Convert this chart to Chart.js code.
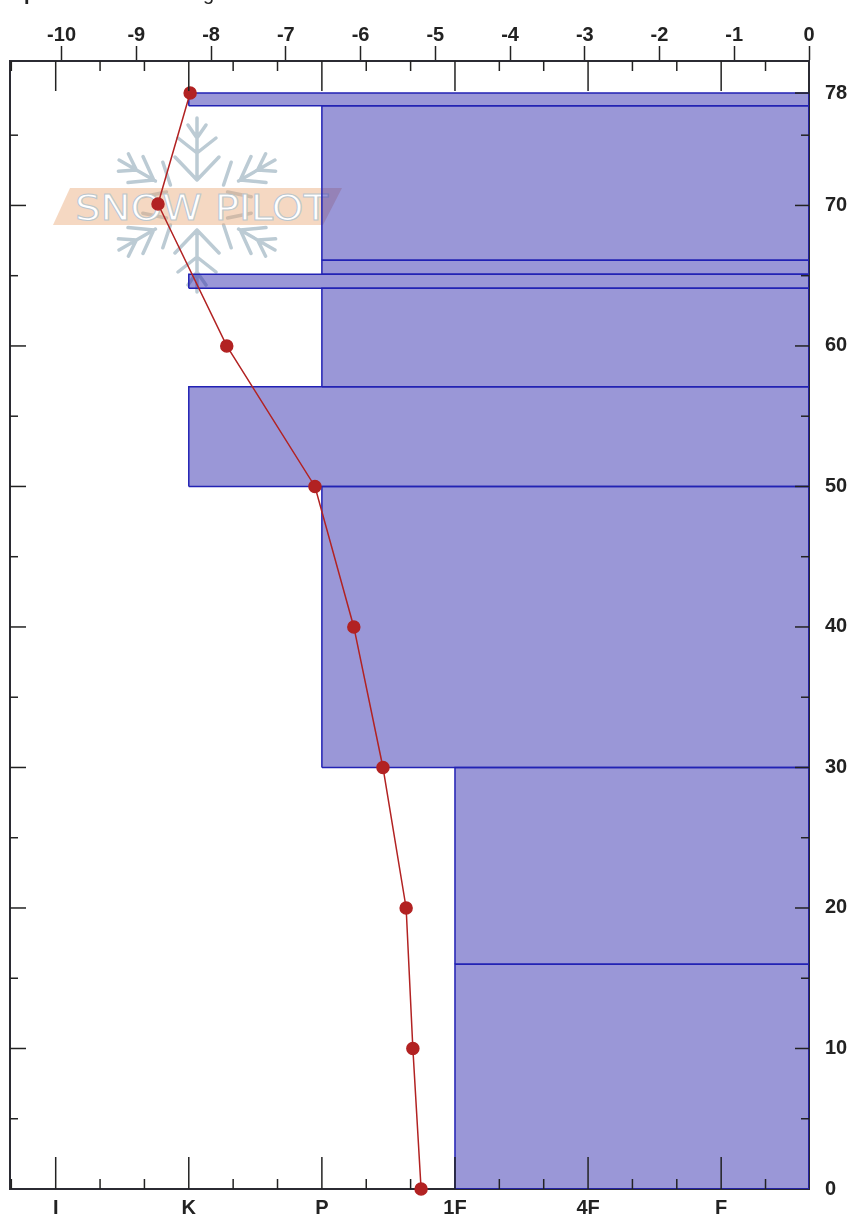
<!DOCTYPE html>
<html>
<head>
<meta charset="utf-8">
<script src="https://cdn.jsdelivr.net/npm/chart.js@4"></script>
<style>
  html, body { margin: 0; padding: 0; background: #fff; overflow: hidden; }
  #wrap { position: relative; width: 848px; height: 1218px; }
  #chart, #logo { position: absolute; left: 0; top: 0; }
  #chart { z-index: 1; }
  #logo { z-index: 0; }
</style>
</head>
<body>
<div id="wrap">
  <svg id="logo" width="848" height="300">
    <defs>
      <g id="arm" fill="none" stroke="#bccbd4" stroke-width="3.5" stroke-linecap="round">
        <path d="M0 -87V-25M0 -25L22 -48M0 -25L-22 -48M0 -52L19 -67M0 -52L-19 -67M0 -67L9 -80M0 -67L-9 -80"/>
      </g>
      <g id="diag" fill="none" stroke="#bccbd4" stroke-width="3.5" stroke-linecap="round">
        <path d="M0 -90V-48M0 -50L15 -71M0 -50L-15 -71M0 -70L10 -85M0 -70L-10 -85M4 -33L20 -51M-4 -33L-20 -51"/>
      </g>
    </defs>
    <g transform="translate(197 205)">
      <use href="#arm"/>
      <use href="#arm" transform="rotate(180)"/>
      <use href="#diag" transform="rotate(60)"/>
      <use href="#diag" transform="rotate(120)"/>
      <use href="#diag" transform="rotate(240)"/>
      <use href="#diag" transform="rotate(300)"/>
    </g>
    <polygon points="53,225 70,188 342,188 323,225" fill="#e8a878" fill-opacity="0.45"/>
    <text x="75" y="220" textLength="253" lengthAdjust="spacingAndGlyphs"
          font-family="DejaVu Sans" font-size="36" fill="#ffffff"
          stroke="#bcc6cc" stroke-width="1">SNOW PILOT</text>
  </svg>
  <canvas id="chart" width="848" height="1218"></canvas>
</div>
<script>
// Hardness profile layers (depth in cm, hardness position on the lower axis)
const layerBottom = [0, 16, 30, 50, 57.1, 64.1, 65.1, 66.1, 77.1];
const layerTop = [16, 30, 50, 57.1, 64.1, 65.1, 66.1, 77.1, 78];
const layerHardness = [10, 10, 7, 4, 7, 4, 7, 7, 4];

// Temperature profile
const tempDepth = [0, 10, 20, 30, 40, 50, 60, 70.1, 78];
const tempValues = [-5.19, -5.30, -5.39, -5.70, -6.09, -6.61, -7.79, -8.71, -8.28];

// Axis ticks
const hardnessTicks = [1, 4, 7, 10, 13, 16];
const hardnessLabels = ['I', 'K', 'P', '1F', '4F', 'F'];
const hardnessMinorTicks = [0, 2, 3, 5, 6, 8, 9, 11, 12, 14, 15, 17];
const tempTicks = [-10, -9, -8, -7, -6, -5, -4, -3, -2, -1, 0];
const depthLabels = [0, 10, 20, 30, 40, 50, 60, 70, 78];
const depthMinorTicks = [5, 15, 25, 35, 45, 55, 65, 75];
const depthMajorTicks = [10, 20, 30, 40, 50, 60, 70];

const HARD_MIN = -0.03;
const HARD_MAX = 17.98;
const axisColor = '#2b2b33';
const tickFont = { family: 'Liberation Sans', size: 20, weight: 'bold' };

// every layer is a closed shape running from its hardness to the right edge
const layerSets = layerBottom.map((bottom, i) => ({
    type: 'line',
    xAxisID: 'x',
    yAxisID: 'y',
    data: [
        { x: layerHardness[i], y: bottom },
        { x: layerHardness[i], y: layerTop[i] },
        { x: HARD_MAX, y: layerTop[i] },
        { x: HARD_MAX, y: bottom },
        { x: layerHardness[i], y: bottom }
    ],
    borderColor: '#2222b4',
    borderWidth: 1.5,
    backgroundColor: 'rgba(40,35,170,0.47)',
    fill: 'shape',
    pointRadius: 0,
    tension: 0
}));

// ticks that point into the plot, the axes only draw them outwards
const insideTicks = {
    id: 'insideTicks',
    afterDatasetsDraw(chart) {
        const { ctx, chartArea: a, scales } = chart;
        const line = (x1, y1, x2, y2, w) => {
            ctx.lineWidth = w;
            ctx.beginPath();
            ctx.moveTo(x1, y1);
            ctx.lineTo(x2, y2);
            ctx.stroke();
        };
        ctx.save();
        ctx.strokeStyle = '#222';
        hardnessTicks.forEach(v => {
            const x = scales.x.getPixelForValue(v);
            line(x, a.top, x, a.top + 30, 1.5);
            line(x, a.bottom, x, a.bottom - 32, 1.5);
        });
        hardnessMinorTicks.forEach(v => {
            const x = scales.x.getPixelForValue(v);
            line(x, a.top, x, a.top + 10, 1.5);
            line(x, a.bottom, x, a.bottom - 10, 1.5);
        });
        depthMajorTicks.forEach(v => {
            const y = scales.y.getPixelForValue(v);
            line(a.left, y, a.left + 16, y, 1.5);
            line(a.right, y, a.right - 14, y, 1.5);
        });
        depthMinorTicks.forEach(v => {
            const y = scales.y.getPixelForValue(v);
            line(a.left, y, a.left + 8, y, 1.5);
            line(a.right, y, a.right - 8, y, 1.5);
        });
        const topY = scales.y.getPixelForValue(78);
        line(a.right, topY, a.right - 14, topY, 1.5);
        // the title is cut off by the page edge, only its descenders show
        ctx.fillStyle = '#222';
        ctx.font = 'bold 20px "Liberation Sans"';
        ctx.textBaseline = 'alphabetic';
        ctx.fillText('p', 24, 0);
        ctx.font = '20px "Liberation Sans"';
        ctx.fillText('g', 203, 0);
        ctx.restore();
    }
};

new Chart(document.getElementById('chart').getContext('2d'), {
    data: {
        datasets: [
            {
                type: 'line',
                label: 'Temperature',
                xAxisID: 'xTemp',
                yAxisID: 'y',
                data: tempDepth.map((d, i) => ({ x: tempValues[i], y: d })),
                borderColor: '#b22222',
                borderWidth: 1.5,
                backgroundColor: '#b22222',
                pointBackgroundColor: '#b22222',
                pointBorderColor: '#b22222',
                pointRadius: 6,
                fill: false,
                tension: 0,
                clip: false
            },
            ...layerSets
        ]
    },
    options: {
        responsive: false,
        animation: false,
        plugins: { legend: { display: false }, tooltip: { enabled: false } },
        layout: { padding: 0 },
        scales: {
            x: {
                type: 'linear',
                position: 'bottom',
                min: HARD_MIN,
                max: HARD_MAX,
                afterBuildTicks: s => { s.ticks = hardnessTicks.map(v => ({ value: v })); },
                afterFit: s => { s.height = 29; },
                border: { color: axisColor, width: 2 },
                grid: { display: false },
                ticks: {
                    autoSkip: false,
                    maxRotation: 0,
                    padding: -1,
                    color: '#222',
                    font: tickFont,
                    callback: v => hardnessLabels[hardnessTicks.indexOf(v)]
                }
            },
            xTemp: {
                type: 'linear',
                position: 'top',
                min: -10.69,
                max: 0,
                afterBuildTicks: s => { s.ticks = tempTicks.map(v => ({ value: v })); },
                afterFit: s => { s.height = 61; },
                border: { color: axisColor, width: 2 },
                grid: { drawOnChartArea: false, tickLength: 15, tickColor: '#222', tickWidth: 1.5 },
                ticks: {
                    autoSkip: false,
                    maxRotation: 0,
                    padding: -1,
                    color: '#222',
                    font: tickFont,
                    callback: v => String(v)
                }
            },
            y: {
                type: 'linear',
                position: 'left',
                min: 0,
                max: 80.28,
                afterFit: s => { s.width = 10; },
                border: { color: axisColor, width: 2 },
                grid: { display: false },
                ticks: { display: false }
            },
            yRight: {
                type: 'linear',
                position: 'right',
                min: 0,
                max: 80.28,
                afterBuildTicks: s => { s.ticks = depthLabels.map(v => ({ value: v })); },
                afterFit: s => { s.width = 39; },
                border: { color: axisColor, width: 2 },
                grid: { display: false },
                ticks: {
                    autoSkip: false,
                    padding: 8,
                    color: '#222',
                    font: tickFont,
                    callback: v => String(v)
                }
            }
        }
    },
    plugins: [insideTicks]
});
</script>
</body>
</html>
